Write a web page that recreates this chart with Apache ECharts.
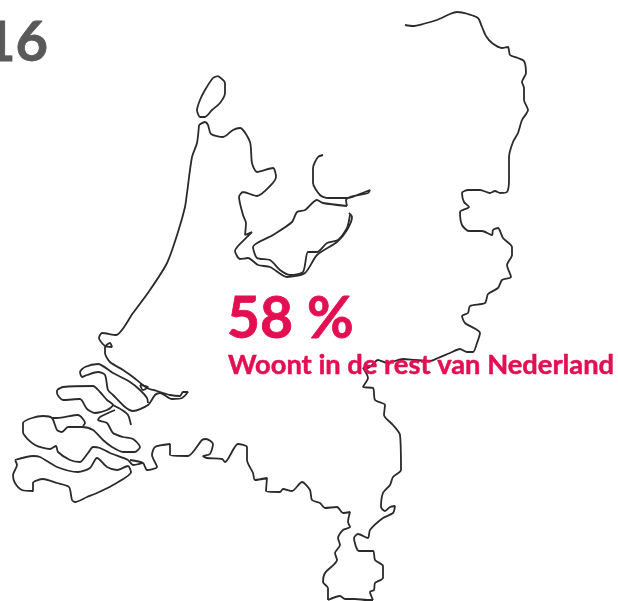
<!DOCTYPE html>
<html style="height: 100%">

<head>
	<meta charset="utf-8">
	<title>Woont in de rest van Nederland</title>
	<style>
		html, body { background: #fff; }
	</style>
</head>

<body style="height: 100%; margin: 0">
	<div id="container" style="width: 618px; height: 601px"></div>
	<script src="https://cdn.jsdelivr.net/npm/echarts@6/dist/echarts.min.js"></script>
	<script type="text/javascript">
		// outline pieces as [x, y]
		var noordOost = [[405,25],[413,26],[423,24],[437,20],[450,14],[457,12],[468,14],[478,18],[482,27],[486,36],[492,43],[502,48],[508,47],[510,55],[518,58],[524,61],[526,73],[522,82],[524,88],[524,100],[528,110],[522,120],[518,133],[513,142],[509,157],[509,180],[507,192],[500,193],[495,191],[490,193],[480,190],[468,190],[462,193],[464,202],[469,207],[460,212],[462,225],[469,231],[482,231],[492,235],[493,230],[498,228],[503,238],[512,247],[512,255],[507,265],[511,277],[502,280],[498,288],[488,294],[485,303],[470,306],[468,313],[462,316],[465,323],[480,333],[477,343],[473,352],[467,352],[460,349],[450,353],[438,358],[430,361],[415,360],[403,359],[387,363],[378,360],[368,368],[363,368],[368,378],[363,387],[373,388],[375,400],[385,405],[384,415],[393,425],[400,435],[401,470],[393,477],[390,485],[383,493],[381,507],[385,511],[390,507],[395,506],[393,513],[383,518],[370,530],[368,538],[358,534],[354,538],[359,551],[373,551],[375,560],[383,566],[383,578],[375,583],[374,590],[370,592],[373,600]];
		var limburgOnder = [[328,600],[340,596],[345,599],[355,599],[367,600],[373,600]];
		var zuidGrens = [[130,460],[143,463],[147,470],[157,467],[152,455],[155,447],[170,444],[170,455],[188,456],[202,440],[206,439],[213,444],[210,454],[203,456],[207,458],[222,459],[225,462],[238,444],[247,447],[247,460],[253,473],[255,480],[267,478],[266,491],[280,492],[283,489],[292,491],[302,482],[310,490],[312,500],[320,503],[325,508],[337,507],[343,513],[350,512],[348,522],[350,527],[343,530],[338,538],[340,545],[335,553],[337,560],[325,573],[323,582],[328,588],[328,600]];
		var westKust = [[199,125],[197,143],[192,157],[187,193],[185,207],[178,232],[167,263],[150,290],[133,313],[116,335],[102,333],[99,338],[105,346],[112,347],[110,343],[105,347],[105,353],[110,362],[123,370],[133,377],[147,388],[157,391],[170,395],[180,396],[183,392],[188,392],[182,398],[172,399],[160,393],[155,395],[148,405],[133,411],[125,407],[113,395],[108,390],[105,375],[98,372],[87,375],[82,377],[80,372],[85,367],[98,364],[113,373],[130,382],[140,390],[147,398],[148,403]];
		var ijsselmeerKust = [[199,125],[205,122],[208,125],[211,134],[223,137],[233,130],[240,128],[250,142],[252,163],[257,172],[273,168],[276,177],[270,186],[257,196],[243,192],[239,197],[243,215],[246,223],[245,235],[252,232],[247,237],[235,251],[240,259],[248,258],[258,265],[270,267],[287,277],[305,273],[317,255],[337,242],[347,230],[352,217],[349,213]];
		var flevoland = [[347,206],[323,203],[317,200],[305,210],[297,212],[292,222],[273,235],[253,247],[257,258],[270,260],[280,270],[290,275],[303,272],[308,252],[317,252],[327,243],[338,240],[347,228],[350,215]];
		var noordoostpolder = [[323,155],[318,157],[313,168],[313,183],[320,195],[328,198],[347,198],[365,192],[370,190],[368,193],[350,197],[346,200],[347,206]];
		var texel = [[218,76],[225,83],[225,93],[220,103],[212,110],[205,117],[200,117],[197,110],[200,100],[205,90],[213,78],[218,76]];
		var hoekjeLus = [[140,385],[148,387],[143,390],[140,385]];
		var overflakkee = [[57,390],[63,387],[93,386],[100,392],[107,400],[113,405],[107,410],[95,413],[87,409],[80,399],[63,400],[57,393],[57,390]];
		var haringvliet = [[113,405],[122,410],[128,415],[131,425]];
		var schouwen = [[115,410],[100,417],[98,420],[107,423],[113,433],[123,437],[133,439],[140,447],[135,452],[123,452],[112,447],[103,440],[93,430],[82,427],[68,427],[62,432],[57,430],[52,418],[43,416],[32,418],[23,423],[23,432],[35,445],[50,449],[56,446],[58,452],[70,460],[80,462],[88,453],[93,447],[100,448],[110,453],[128,460],[133,465],[143,463]];
		var tholen = [[52,418],[57,418],[78,415],[85,423],[83,426]];
		var vlaanderen = [[15,460],[33,456],[40,457],[57,467],[78,472],[90,468],[97,458],[107,467],[117,470],[128,466],[131,472],[113,485],[97,493],[87,497],[75,502],[72,500],[69,487],[57,483],[43,479],[33,483],[33,491],[22,490],[15,483],[13,475],[17,465],[15,460]];

		var outline = [noordOost, limburgOnder, zuidGrens, westKust, ijsselmeerKust, flevoland, noordoostpolder, texel, hoekjeLus, overflakkee, haringvliet, schouwen, tholen, vlaanderen];

		var yearText = '16';
		var percentText = '58 %';
		var labelText = 'Woont in de rest van Nederland';

		var myChart = echarts.init(document.getElementById('container'));
		var option = {
			animation: false,
			backgroundColor: '#fff',
			title: [{
				text: yearText,
				left: -22,
				top: 10,
				textStyle: { color: '#595959', fontFamily: 'Lato', fontWeight: 'bold', fontSize: 56, textBorderColor: '#595959', textBorderWidth: 0.8 }
			}, {
				text: percentText,
				left: 222,
				top: 286,
				textStyle: { color: '#e30f53', fontFamily: 'Lato', fontWeight: 'bold', fontSize: 57, textBorderColor: '#e30f53', textBorderWidth: 0.8 }
			}, {
				text: labelText,
				left: 223,
				top: 347,
				textStyle: { color: '#e30f53', fontFamily: 'Lato', fontWeight: 'bold', fontSize: 27.3, textBorderColor: '#e30f53', textBorderWidth: 0.5 }
			}],
			grid: { left: 0, right: 0, top: 0, bottom: 0 },
			xAxis: { type: 'value', min: 0, max: 618, show: false },
			yAxis: { type: 'value', min: 0, max: 601, inverse: true, show: false },
			series: outline.map(function(piece) {
				return {
					type: 'line',
					data: piece,
					showSymbol: false,
					smooth: 0.25,
					lineStyle: { color: '#2b2b2b', width: 1.8 }
				};
			})
		};
		myChart.setOption(option);
	</script>
</body>

</html>
